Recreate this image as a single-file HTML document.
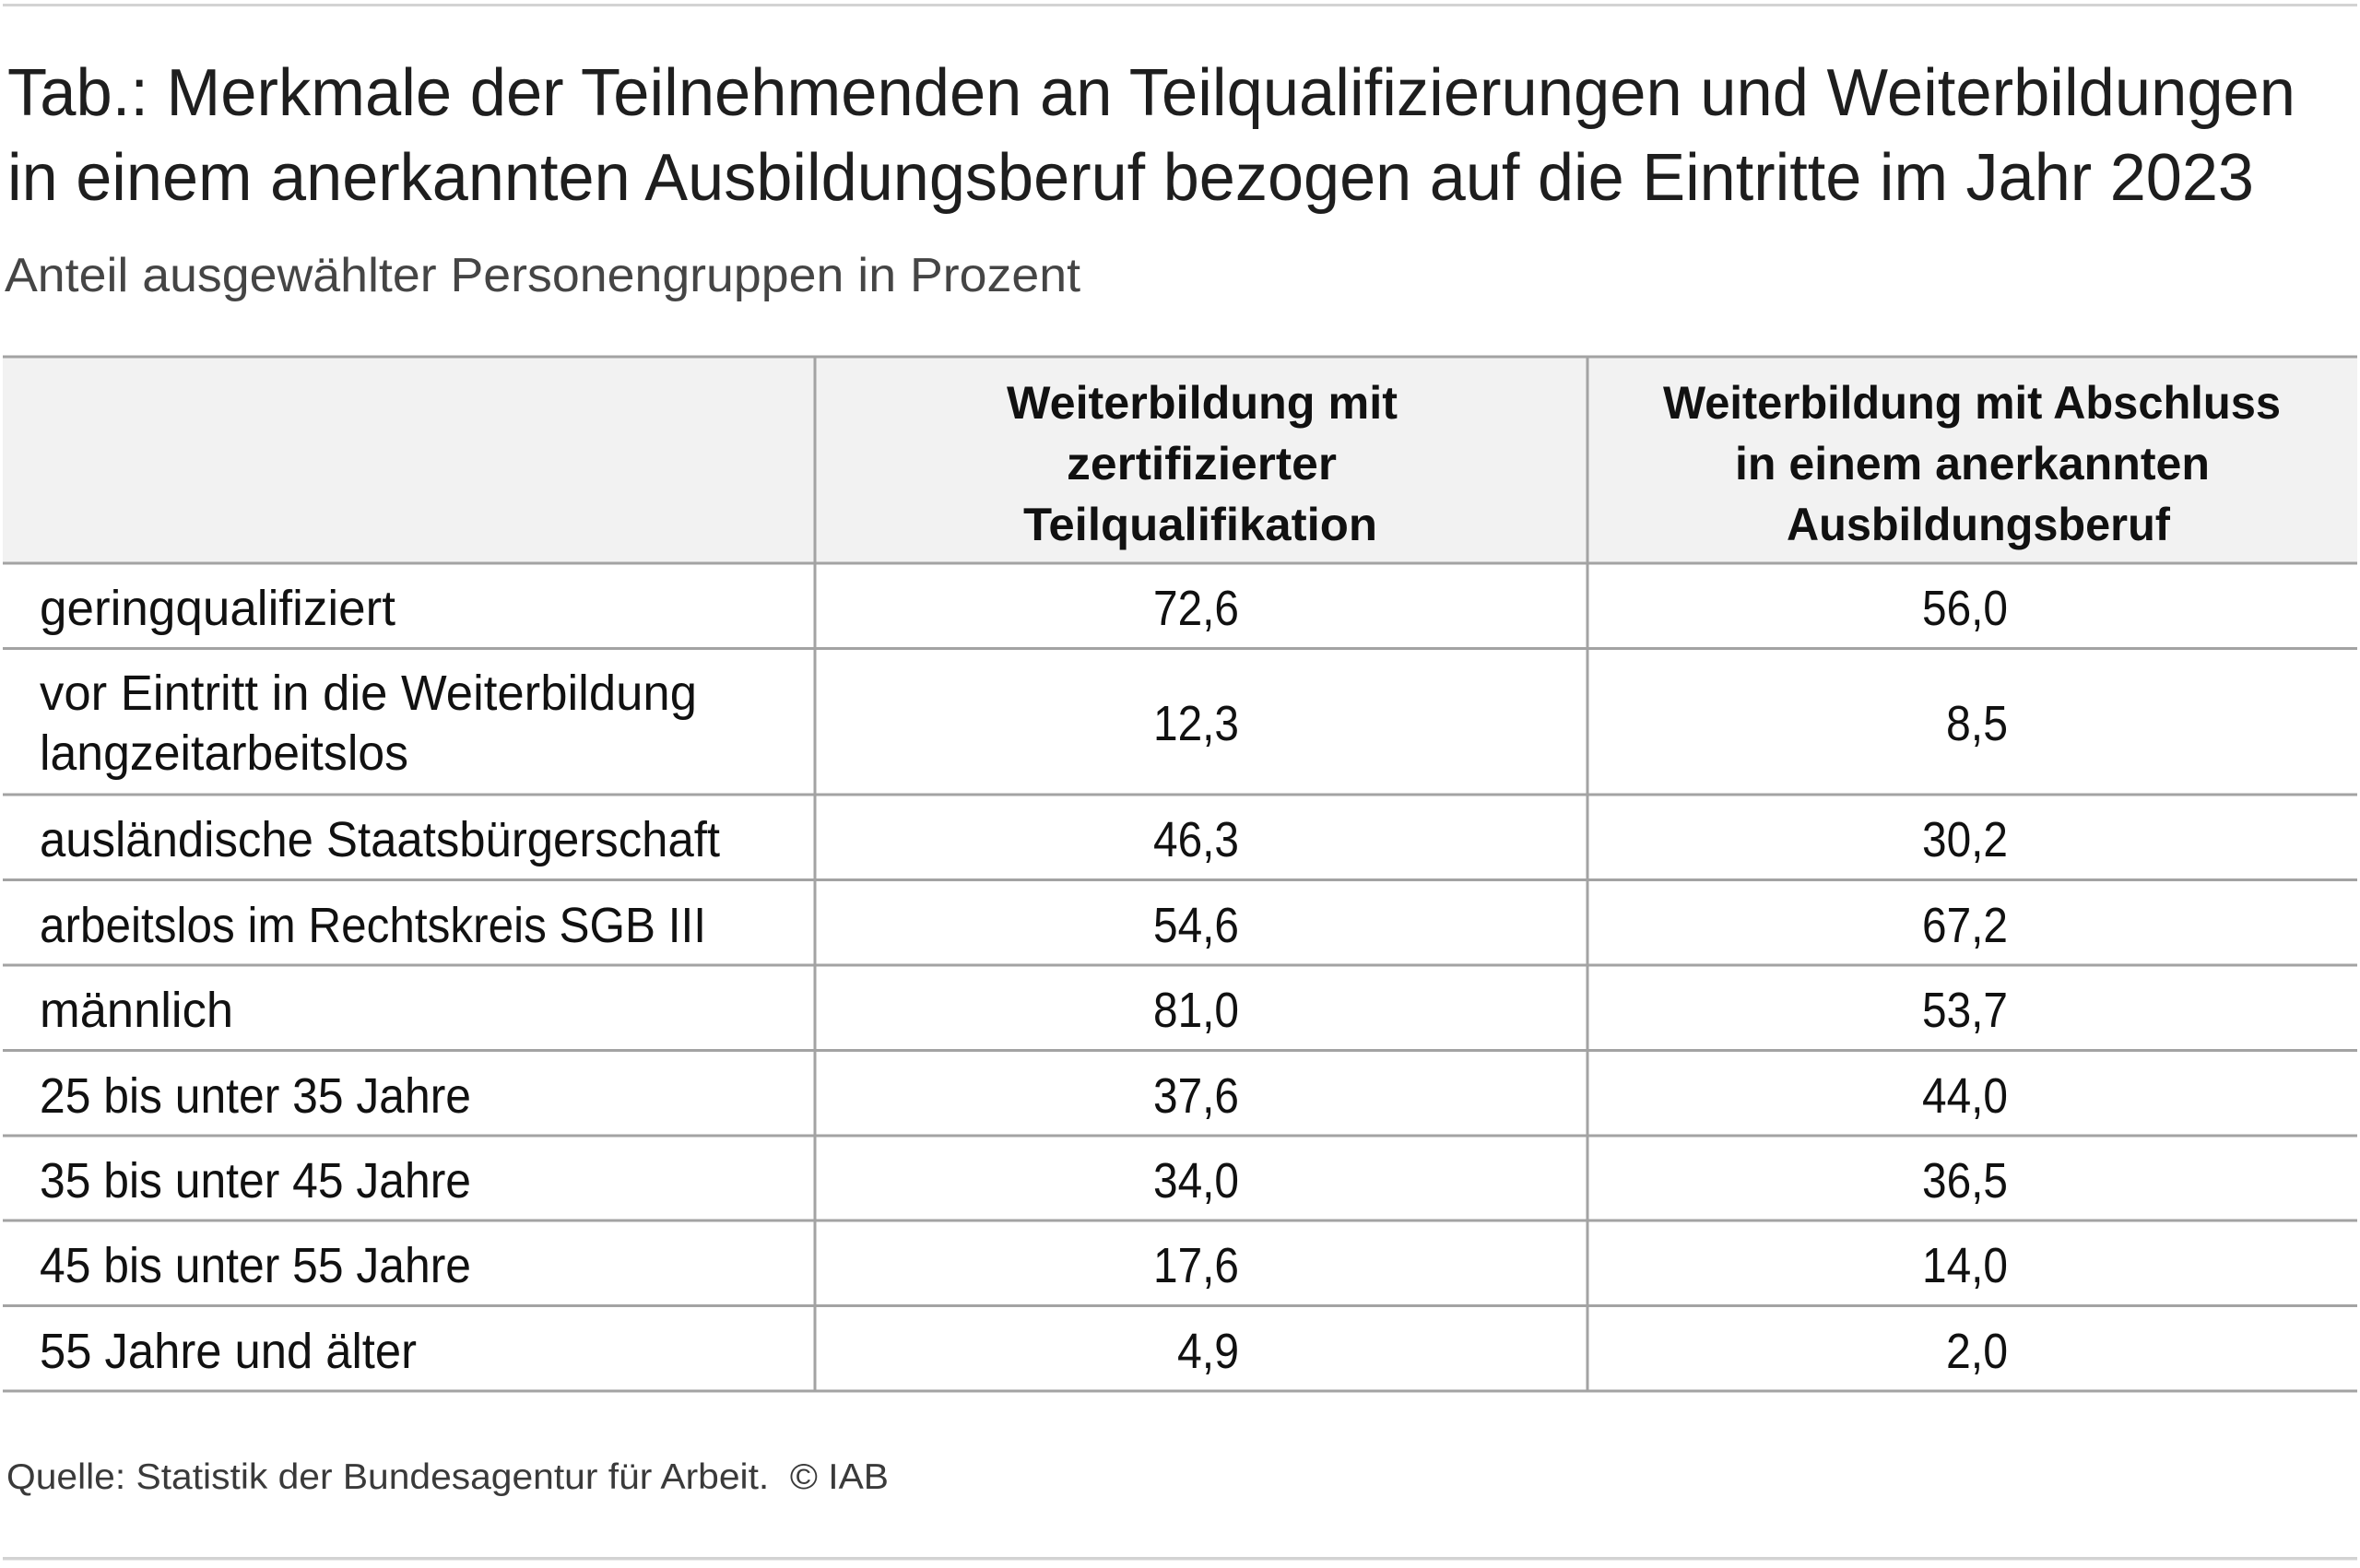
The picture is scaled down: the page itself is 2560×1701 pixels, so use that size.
<!DOCTYPE html>
<html>
<head>
<meta charset="utf-8">
<style>
html,body{margin:0;padding:0;background:#fff;}
svg{display:block;}
text{font-family:"Liberation Sans",sans-serif;}
.t{font-size:72px;fill:#1e1e1e;}
.s{font-size:52px;fill:#454545;}
.b{font-size:54px;fill:#111;}
.h{font-size:50px;font-weight:bold;fill:#111;}
.f{font-size:39px;fill:#3a3a3a;white-space:pre;}
</style>
</head>
<body>
<svg width="2560" height="1701" viewBox="0 0 2560 1701" xmlns="http://www.w3.org/2000/svg">
<rect x="0" y="0" width="2560" height="1701" fill="#fff"/>
<!-- top rule -->
<rect x="3" y="4" width="2554" height="3" fill="#d3d3d3"/>
<!-- title -->
<text class="t" x="8" y="125" textLength="2482" lengthAdjust="spacingAndGlyphs">Tab.: Merkmale der Teilnehmenden an Teilqualifizierungen und Weiterbildungen</text>
<text class="t" x="8" y="217" textLength="2437" lengthAdjust="spacingAndGlyphs">in einem anerkannten Ausbildungsberuf bezogen auf die Eintritte im Jahr 2023</text>
<text class="s" x="5" y="316" textLength="1167" lengthAdjust="spacingAndGlyphs">Anteil ausgewählter Personengruppen in Prozent</text>

<!-- header background -->
<rect x="3" y="388" width="2554" height="222" fill="#f2f2f2"/>

<!-- horizontal grid lines -->
<g fill="#a3a3a3">
<rect x="3" y="385.5" width="2554" height="3"/>
<rect x="3" y="609.5" width="2554" height="3"/>
<rect x="3" y="702" width="2554" height="3"/>
<rect x="3" y="860.5" width="2554" height="3"/>
<rect x="3" y="953" width="2554" height="3"/>
<rect x="3" y="1045.5" width="2554" height="3"/>
<rect x="3" y="1138" width="2554" height="3"/>
<rect x="3" y="1230.5" width="2554" height="3"/>
<rect x="3" y="1322.5" width="2554" height="3"/>
<rect x="3" y="1415" width="2554" height="3"/>
<rect x="3" y="1507.5" width="2554" height="3"/>
<!-- vertical lines -->
<rect x="882.5" y="387" width="3" height="1122"/>
<rect x="1720.5" y="387" width="3" height="1122"/>
</g>

<!-- header texts -->
<text class="h" x="1092" y="454" textLength="424" lengthAdjust="spacingAndGlyphs">Weiterbildung mit</text>
<text class="h" x="1157" y="520" textLength="293" lengthAdjust="spacingAndGlyphs">zertifizierter</text>
<text class="h" x="1110" y="586" textLength="384" lengthAdjust="spacingAndGlyphs">Teilqualifikation</text>
<text class="h" x="1804" y="454" textLength="670" lengthAdjust="spacingAndGlyphs">Weiterbildung mit Abschluss</text>
<text class="h" x="1882" y="520" textLength="515" lengthAdjust="spacingAndGlyphs">in einem anerkannten</text>
<text class="h" x="1938" y="586" textLength="416" lengthAdjust="spacingAndGlyphs">Ausbildungsberuf</text>

<!-- row labels -->
<text class="b" x="43" y="678" textLength="386" lengthAdjust="spacingAndGlyphs">geringqualifiziert</text>
<text class="b" x="43" y="770" textLength="713" lengthAdjust="spacingAndGlyphs">vor Eintritt in die Weiterbildung</text>
<text class="b" x="43" y="835" textLength="400" lengthAdjust="spacingAndGlyphs">langzeitarbeitslos</text>
<text class="b" x="43" y="929" textLength="738" lengthAdjust="spacingAndGlyphs">ausländische Staatsbürgerschaft</text>
<text class="b" x="43" y="1022" textLength="723" lengthAdjust="spacingAndGlyphs">arbeitslos im Rechtskreis SGB III</text>
<text class="b" x="43" y="1114" textLength="210" lengthAdjust="spacingAndGlyphs">männlich</text>
<text class="b" x="43" y="1207" textLength="468" lengthAdjust="spacingAndGlyphs">25 bis unter 35 Jahre</text>
<text class="b" x="43" y="1299" textLength="468" lengthAdjust="spacingAndGlyphs">35 bis unter 45 Jahre</text>
<text class="b" x="43" y="1391" textLength="468" lengthAdjust="spacingAndGlyphs">45 bis unter 55 Jahre</text>
<text class="b" x="43" y="1484" textLength="409" lengthAdjust="spacingAndGlyphs">55 Jahre und älter</text>

<!-- column 1 values -->
<text class="b" x="1251" y="678" textLength="93" lengthAdjust="spacingAndGlyphs">72,6</text>
<text class="b" x="1251" y="803" textLength="93" lengthAdjust="spacingAndGlyphs">12,3</text>
<text class="b" x="1251" y="929" textLength="93" lengthAdjust="spacingAndGlyphs">46,3</text>
<text class="b" x="1251" y="1022" textLength="93" lengthAdjust="spacingAndGlyphs">54,6</text>
<text class="b" x="1251" y="1114" textLength="93" lengthAdjust="spacingAndGlyphs">81,0</text>
<text class="b" x="1251" y="1207" textLength="93" lengthAdjust="spacingAndGlyphs">37,6</text>
<text class="b" x="1251" y="1299" textLength="93" lengthAdjust="spacingAndGlyphs">34,0</text>
<text class="b" x="1251" y="1391" textLength="93" lengthAdjust="spacingAndGlyphs">17,6</text>
<text class="b" x="1277" y="1484" textLength="67" lengthAdjust="spacingAndGlyphs">4,9</text>

<!-- column 2 values -->
<text class="b" x="2085" y="678" textLength="93" lengthAdjust="spacingAndGlyphs">56,0</text>
<text class="b" x="2111" y="803" textLength="67" lengthAdjust="spacingAndGlyphs">8,5</text>
<text class="b" x="2085" y="929" textLength="93" lengthAdjust="spacingAndGlyphs">30,2</text>
<text class="b" x="2085" y="1022" textLength="93" lengthAdjust="spacingAndGlyphs">67,2</text>
<text class="b" x="2085" y="1114" textLength="93" lengthAdjust="spacingAndGlyphs">53,7</text>
<text class="b" x="2085" y="1207" textLength="93" lengthAdjust="spacingAndGlyphs">44,0</text>
<text class="b" x="2085" y="1299" textLength="93" lengthAdjust="spacingAndGlyphs">36,5</text>
<text class="b" x="2085" y="1391" textLength="93" lengthAdjust="spacingAndGlyphs">14,0</text>
<text class="b" x="2111" y="1484" textLength="67" lengthAdjust="spacingAndGlyphs">2,0</text>

<!-- footer -->
<text class="f" x="7" y="1615" textLength="957" lengthAdjust="spacingAndGlyphs">Quelle: Statistik der Bundesagentur für Arbeit.  © IAB</text>

<!-- bottom rule -->
<rect x="3" y="1689" width="2554" height="3.5" fill="#d3d3d3"/>
</svg>
</body>
</html>
